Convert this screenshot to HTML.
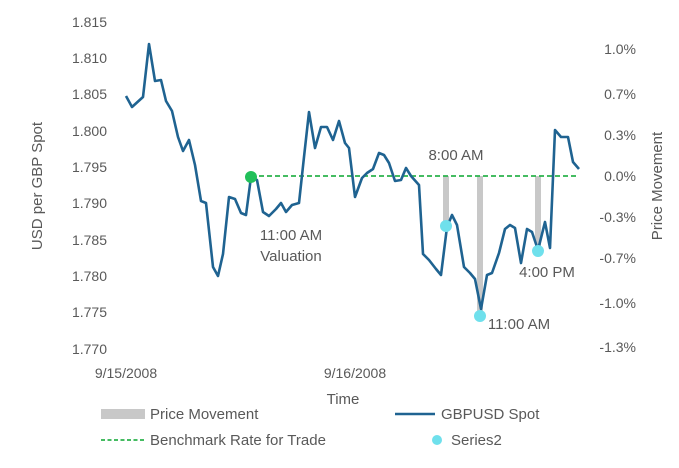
<!DOCTYPE html>
<html><head><meta charset="utf-8"><style>
body{margin:0;background:#fff;}
svg text{font-family:"Liberation Sans",sans-serif;fill:#595959;}
</style></head><body>
<svg width="679" height="463" viewBox="0 0 679 463" xmlns="http://www.w3.org/2000/svg">
<g font-size="14" text-anchor="end">
<text x="107" y="27">1.815</text><text x="107" y="63">1.810</text><text x="107" y="99">1.805</text>
<text x="107" y="136">1.800</text><text x="107" y="172">1.795</text><text x="107" y="208">1.790</text>
<text x="107" y="245">1.785</text><text x="107" y="281">1.780</text><text x="107" y="317">1.775</text>
<text x="107" y="354">1.770</text>
</g>
<g font-size="14" text-anchor="end">
<text x="636" y="54">1.0%</text><text x="636" y="99">0.7%</text><text x="636" y="140">0.3%</text>
<text x="636" y="181">0.0%</text><text x="636" y="222">-0.3%</text><text x="636" y="263">-0.7%</text>
<text x="636" y="308">-1.0%</text><text x="636" y="352">-1.3%</text>
</g>
<text font-size="15" transform="translate(42,186) rotate(-90)" text-anchor="middle">USD per GBP Spot</text>
<text font-size="15" transform="translate(662,186) rotate(-90)" text-anchor="middle">Price Movement</text>
<text font-size="14" x="126" y="378" text-anchor="middle">9/15/2008</text>
<text font-size="14" x="355" y="378" text-anchor="middle">9/16/2008</text>
<text font-size="15" x="343" y="404" text-anchor="middle">Time</text>
<g fill="#c8c8c8">
<rect x="443" y="176" width="6" height="50"/><rect x="477" y="176" width="6" height="140"/><rect x="535" y="176" width="6" height="75"/>
</g>
<line x1="251" y1="176" x2="578" y2="176" stroke="#2bb24c" stroke-width="1.8" stroke-dasharray="5,3"/>
<polyline fill="none" stroke="#1f6391" stroke-width="2.6" stroke-linejoin="round" points="126,96 132,107 143,97 149,44 155,81 161,80 166,101 172,111 178,137 183,151 189,140 195,165 201,201 206,203 213,267 218,276 223,254 229,197 235,199 241,213 246,215 251,177 257,180 263,212 269,216 276,209 281,203 286,212 292,205 299,203 304,157 309,112 315,148 321,127 327,127 333,140 339,121 345,143 349,148 355,197 362,178 367,173 373,169 379,153 384,155 389,163 395,181 401,180 406,168 411,176 419,185 423,254 429,260 436,269 441,275 447,227 452,215 457,225 464,267 470,273 475,279 481,309 487,275 492,273 499,253 505,229 510,225 515,228 521,263 527,229 532,232 538,250 545,222 550,248 555,130 561,137 568,137 573,162 579,169"/>
<circle cx="251" cy="177" r="6" fill="#22c05a"/>
<g fill="#6fe0ec"><circle cx="446" cy="226" r="6"/><circle cx="480" cy="316" r="6"/><circle cx="538" cy="251" r="6"/></g>
<g font-size="15">
<text x="291" y="240" text-anchor="middle">11:00 AM</text>
<text x="291" y="261" text-anchor="middle">Valuation</text>
<text x="456" y="160" text-anchor="middle">8:00 AM</text>
<text x="547" y="277" text-anchor="middle">4:00 PM</text>
<text x="519" y="329" text-anchor="middle">11:00 AM</text>
</g>
<rect x="101" y="409" width="44" height="10" fill="#c8c8c8"/>
<text font-size="15" x="150" y="419">Price Movement</text>
<line x1="395" y1="414" x2="435" y2="414" stroke="#1f6391" stroke-width="2.6"/>
<text font-size="15" x="441" y="419">GBPUSD Spot</text>
<line x1="101" y1="440" x2="145" y2="440" stroke="#2bb24c" stroke-width="1.8" stroke-dasharray="4,2.5"/>
<text font-size="15" x="150" y="445">Benchmark Rate for Trade</text>
<circle cx="437" cy="440" r="5" fill="#6fe0ec"/>
<text font-size="15" x="451" y="445">Series2</text>
</svg>
</body></html>
